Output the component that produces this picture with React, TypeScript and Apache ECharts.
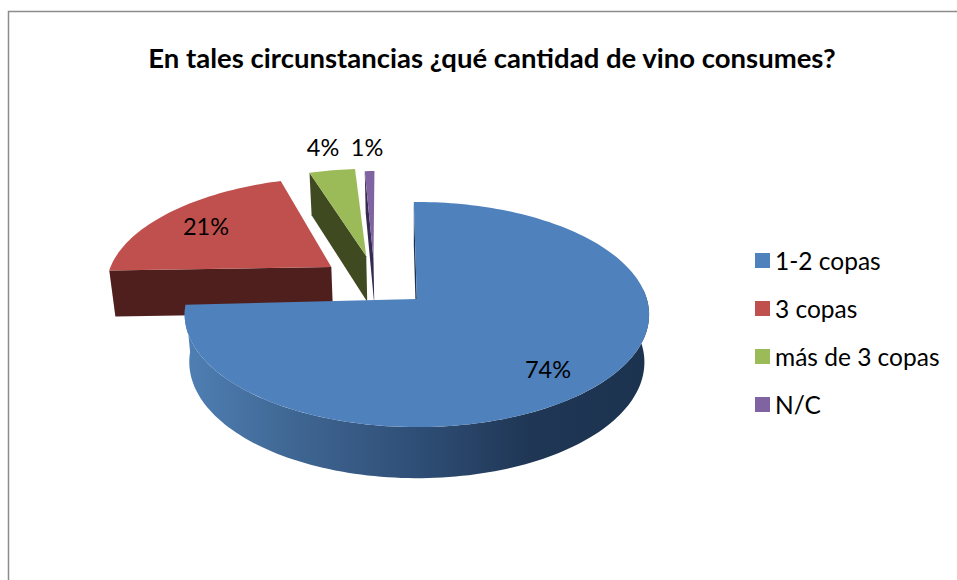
import React, { useEffect, useRef } from "react";
import * as echarts from "echarts";

const TITLE = "En tales circunstancias ¿qué cantidad de vino consumes?";
const categories = ["1-2 copas", "3 copas", "más de 3 copas", "N/C"];
const shares = [74.4, 20.6, 3.8, 0.8];
const faceColors = ["#4f81bd", "#c0504d", "#9bbb59", "#8064a2"];
const wallColors = ["#1c3350", "#4f1f1e", "#3f4a20", "#352a4f"];

// layout of the drawing (projection of a tilted disk)
const CX = 415, CY = 299, RX = 230, RY = 110.4, PERSP = 0.138;
const DEPTH = 47, DEPTH_PERSP = 0.08, BOTTOM_SCALE = 0.98;
const sliceOffset = [[0.008, 0], [-0.379, 0.302], [-0.224, 0.41], [-0.19, 0.38]];
const slicePhase = [-0.8, 0.2, -0.7, 0.3];
const labelPos = [[548, 369], [206, 226], [323, 147], [367, 147]];
const FONT = "Lato";
const LABEL_SIZE = 23.5;
const FULL = 100;

function project(u: number, v: number, bottom = false): number[] {
  const w = 1 + PERSP * v;
  let x = (RX * u) / w;
  let y = CY - (RY * v) / w;
  if (bottom) {
    x *= BOTTOM_SCALE;
    y += DEPTH / (1 + DEPTH_PERSP * v);
  }
  return [CX + x, y];
}

function arcPoints(i: number, from: number, to: number, bottom = false): number[][] {
  const [du, dv] = sliceOffset[i];
  const pts: number[][] = [];
  const n = Math.max(2, Math.ceil(Math.abs(to - from) / 1.5));
  for (let k = 0; k <= n; k++) {
    const t = ((from + ((to - from) * k) / n) * Math.PI) / 180;
    pts.push(project(du + Math.sin(t), dv + Math.cos(t), bottom));
  }
  return pts;
}

function makeRenderItem(i: number) {
  return (_p: any, api: any) => {
    const value = api.value(0) as number;
    const before = shares.slice(0, i).reduce((a, b) => a + b, 0);
    const a0 = (before / FULL) * 360 + slicePhase[i];
    const a1 = a0 + (value / FULL) * 360;
    const [du, dv] = sliceOffset[i];
    const apexTop = project(du, dv);
    const apexBot = project(du, dv, true);
    const children: any[] = [];
    // radial wall along the slice's start edge
    const outerTop = arcPoints(i, a0, a0 + 0.01)[0];
    const outerBot = arcPoints(i, a0, a0 + 0.01, true)[0];
    children.push({
      type: "polygon",
      shape: { points: [outerTop, apexTop, apexBot, outerBot] },
      style: { fill: wallColors[i] },
    });
    if (i === 0) {
      // front outer wall, shaded from left to right
      const from = Math.max(a0, 85);
      const to = Math.min(a1, 300);
      const pts = [...arcPoints(i, from, to), ...arcPoints(i, to, from, true)];
      children.push({
        type: "polygon",
        shape: { points: pts },
        style: {
          fill: new echarts.graphic.LinearGradient(0, 0, 1, 0, [
            { offset: 0, color: "#4f7fb4" },
            { offset: 0.25, color: "#3e6591" },
            { offset: 0.5, color: "#2f4e76" },
            { offset: 0.75, color: "#1f3654" },
            { offset: 1, color: "#1c3350" },
          ]),
        },
      });
    }
    children.push({
      type: "polygon",
      shape: { points: [apexTop, ...arcPoints(i, a0, a1)] },
      style: { fill: faceColors[i] },
    });
    children.push({
      type: "text",
      x: labelPos[i][0],
      y: labelPos[i][1],
      style: {
        text: `${Math.round(value)}%`,
        fontFamily: FONT,
        fontSize: LABEL_SIZE,
        fill: "#000",
        align: "center",
        verticalAlign: "middle",
      },
    });
    return { type: "group", children };
  };
}

export default function App() {
  const ref = useRef<HTMLDivElement>(null);
  useEffect(() => {
    const chart = echarts.init(ref.current!, undefined, { renderer: "svg" });
    chart.setOption({
      animation: false,
      backgroundColor: "#fff",
      title: {
        text: TITLE,
        left: 492,
        top: 43,
        padding: 0,
        textAlign: "center",
        textStyle: { fontFamily: FONT, fontSize: 27.5, fontWeight: "bold", color: "#000" },
      },
      legend: {
        left: 755,
        top: 248,
        padding: 0,
        orient: "vertical",
        icon: "rect",
        itemWidth: 15,
        itemHeight: 15,
        itemGap: 23,
        data: categories,
        selectedMode: false,
        textStyle: { fontFamily: FONT, fontSize: 24.5, lineHeight: 24, color: "#000" },
      },
      graphic: [
        {
          type: "polyline",
          shape: { points: [[8.5, 580], [8.5, 11.5], [957, 11.5]] },
          style: { stroke: "#8c8c8c", lineWidth: 1.5, fill: "none" },
          silent: true,
        },
      ],
      series: categories.map((name, i) => ({
        type: "custom",
        name,
        coordinateSystem: "none",
        z: i === 0 ? 5 : 4,
        itemStyle: { color: faceColors[i] },
        renderItem: makeRenderItem(i),
        data: [{ name, value: [shares[i]] }],
      })),
    });
    return () => chart.dispose();
  }, []);
  return <div ref={ref} style={{ position: "absolute", left: 0, top: 0, width: 957, height: 580 }} />;
}
